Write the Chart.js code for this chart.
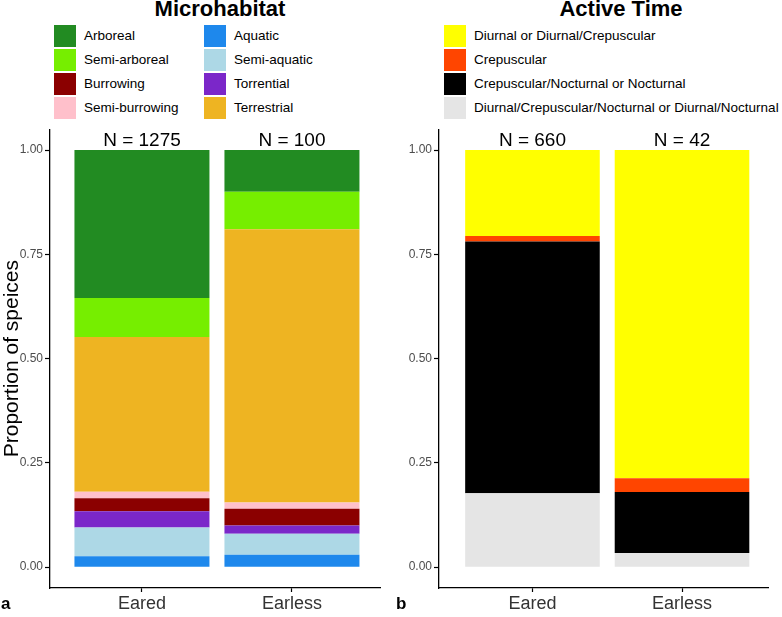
<!DOCTYPE html>
<html>
<head>
<meta charset="utf-8">
<script src="https://cdn.jsdelivr.net/npm/chart.js@4.4.1/dist/chart.umd.min.js"></script>
<style>
  body { margin: 0; background: #fff; font-family: "Liberation Sans", Arial, sans-serif; }
  #page { position: relative; width: 782px; height: 617px; overflow: hidden; }
  .box { position: absolute; }
  .title { position: absolute; font-weight: bold; font-size: 22px; line-height: 22px; white-space: nowrap; transform: translateX(-50%); }
  .key { position: absolute; width: 22px; height: 22px; }
  .lab { position: absolute; font-size: 13.5px; line-height: 22px; white-space: nowrap; color: #000; }
  .tag { position: absolute; font-weight: bold; font-size: 17px; line-height: 17px; }
</style>
</head>
<body>
<div id="page">
  <div class="title" style="left:220px;top:-2px">Microhabitat</div>
  <div class="title" style="left:621px;top:-2px">Active Time</div>
  <div id="legendLeft"></div>
  <div id="legendRight"></div>
  <div class="box" style="left:0;top:120px;width:390px;height:497px"><canvas id="microChart"></canvas></div>
  <div class="box" style="left:390px;top:120px;width:392px;height:497px"><canvas id="activeChart"></canvas></div>
  <div class="tag" style="left:1px;top:595px">a</div>
  <div class="tag" style="left:396px;top:595px">b</div>
</div>
<script>
const groups = ["Eared", "Earless"];
const microN = [1275, 100];
const activeN = [660, 42];
const yTicks = [0, 0.25, 0.5, 0.75, 1];

// microhabitat, in legend order
const microLabels = ["Arboreal", "Semi-arboreal", "Burrowing", "Semi-burrowing",
                     "Aquatic", "Semi-aquatic", "Torrential", "Terrestrial"];
const microEared   = [0.355, 0.093, 0.031, 0.016, 0.026, 0.069, 0.039, 0.371];
const microEarless = [0.100, 0.090, 0.040, 0.015, 0.030, 0.050, 0.020, 0.655];
// bottom to top
const microStack = ["Aquatic", "Semi-aquatic", "Torrential", "Burrowing",
                    "Semi-burrowing", "Terrestrial", "Semi-arboreal", "Arboreal"];

// active time, in legend order
const activeLabels = ["Diurnal or Diurnal/Crepuscular", "Crepuscular",
                      "Crepuscular/Nocturnal or Nocturnal",
                      "Diurnal/Crepuscular/Nocturnal or Diurnal/Nocturnal"];
const activeEared   = [0.206, 0.013, 0.604, 0.177];
const activeEarless = [0.787, 0.033, 0.146, 0.034];
const activeStack = activeLabels.slice().reverse();

const colors = {
  "Arboreal": "#228B22",
  "Semi-arboreal": "#76EE00",
  "Burrowing": "#8B0000",
  "Semi-burrowing": "#FFC0CB",
  "Aquatic": "#1E88EC",
  "Semi-aquatic": "#ADD8E6",
  "Torrential": "#7B27C9",
  "Terrestrial": "#EEB422",
  "Diurnal or Diurnal/Crepuscular": "#FFFF00",
  "Crepuscular": "#FF4500",
  "Crepuscular/Nocturnal or Nocturnal": "#000000",
  "Diurnal/Crepuscular/Nocturnal or Diurnal/Nocturnal": "#E5E5E5"
};

const FONT = '"Liberation Sans", Arial, sans-serif';

function buildDatasets(labels, eared, earless, stack) {
  return stack.map(name => {
    const i = labels.indexOf(name);
    return {
      label: name,
      data: [{ x: 1, y: eared[i] }, { x: 2, y: earless[i] }],
      backgroundColor: colors[name],
      borderWidth: 0,
      barPercentage: 0.9,
      categoryPercentage: 1
    };
  });
}

// "N = ..." above each bar
const nLabels = {
  id: "nLabels",
  afterDatasetsDraw(chart, args, opts) {
    const { ctx, scales: { x, y } } = chart;
    ctx.save();
    ctx.font = "19px " + FONT;
    ctx.fillStyle = "#000";
    ctx.textAlign = "center";
    ctx.textBaseline = "alphabetic";
    opts.counts.forEach((n, i) => {
      ctx.fillText("N = " + n, x.getPixelForValue(i + 1), y.getPixelForValue(1) - 4);
    });
    ctx.restore();
  }
};

function makeOptions(yTitle, yWidth, rightPad, xMin, counts) {
  const axisGrid = { display: true, offset: false, drawOnChartArea: false, drawTicks: true,
                     tickLength: 5, color: "#000", tickColor: "#000", tickWidth: 1.2 };
  const axisBorder = { display: true, color: "#000", width: 1.3 };
  return {
    responsive: true,
    maintainAspectRatio: false,
    animation: false,
    layout: { padding: { top: 6, right: rightPad, left: 0, bottom: 0 } },
    plugins: {
      legend: { display: false },
      tooltip: { enabled: false },
      nLabels: { counts: counts }
    },
    scales: {
      x: {
        type: "linear",
        stacked: true,
        min: xMin,
        max: xMin + 2.2,
        offset: false,
        afterBuildTicks: s => { s.ticks = groups.map((g, i) => ({ value: i + 1 })); },
        afterFit: s => { s.height = 29; },
        ticks: {
          callback: v => groups[Math.round(v) - 1] || "",
          font: { size: 18, family: FONT },
          color: "#333",
          padding: 1,
          maxRotation: 0,
          autoSkip: false
        },
        grid: Object.assign({}, axisGrid, { tickLength: 4 }),
        border: axisBorder
      },
      y: {
        stacked: true,
        min: -0.05,
        max: 1.05,
        afterBuildTicks: s => { s.ticks = yTicks.map(v => ({ value: v })); },
        afterFit: s => { s.width = yWidth; },
        ticks: {
          callback: v => v.toFixed(2),
          font: { size: 12, family: FONT },
          color: "#4D4D4D",
          padding: 2
        },
        grid: axisGrid,
        border: axisBorder,
        title: {
          display: !!yTitle,
          text: yTitle,
          font: { size: 21, family: FONT },
          color: "#000",
          padding: 0
        }
      }
    }
  };
}

new Chart(document.getElementById("microChart"), {
  type: "bar",
  data: { datasets: buildDatasets(microLabels, microEared, microEarless, microStack) },
  options: makeOptions("Proportion of speices", 50, 10, 0.387, microN),
  plugins: [nLabels]
});

new Chart(document.getElementById("activeChart"), {
  type: "bar",
  data: { datasets: buildDatasets(activeLabels, activeEared, activeEarless, activeStack) },
  options: makeOptions("", 49, 14, 0.375, activeN),
  plugins: [nLabels]
});

// ggplot-style legends, filled column by column
function buildLegend(el, labels, colX) {
  labels.forEach((name, i) => {
    const col = Math.floor(i / 4), row = i % 4;
    const top = 25 + row * 24;
    const key = document.createElement("div");
    key.className = "key";
    key.style.left = colX[col] + "px";
    key.style.top = top + "px";
    key.style.background = colors[name];
    el.appendChild(key);
    const lab = document.createElement("div");
    lab.className = "lab";
    lab.style.left = (colX[col] + 30) + "px";
    lab.style.top = top + "px";
    lab.textContent = name;
    el.appendChild(lab);
  });
}
buildLegend(document.getElementById("legendLeft"), microLabels, [54, 204]);
buildLegend(document.getElementById("legendRight"), activeLabels, [444]);
</script>
</body>
</html>
